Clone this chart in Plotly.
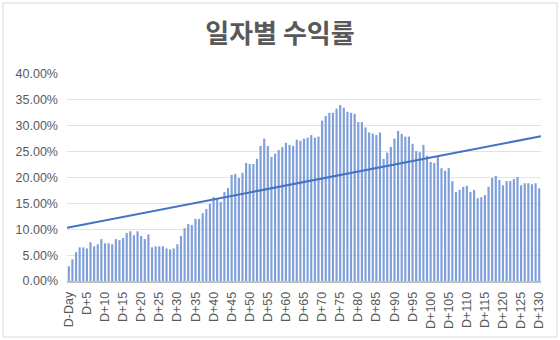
import numpy as np
import plotly.graph_objects as go

# Daily returns (fraction) for D-Day .. D+130
returns_pct = [
    2.85, 4.2, 5.56, 6.5, 6.5, 6.3, 7.5, 6.7, 7.1, 8.1,
    7.3, 7.3, 7.1, 8.1, 7.9, 8.3, 9.3, 9.6, 8.85, 9.6,
    8.7, 8.1, 9.0, 6.5, 6.7, 6.7, 6.7, 6.3, 6.1, 6.3,
    7.1, 8.7, 10.2, 11.0, 10.8, 12.0, 12.0, 13.1, 13.9, 14.9,
    16.2, 15.8, 15.25, 17.2, 18.0, 20.5, 20.7, 19.9, 20.9, 22.8,
    22.6, 22.6, 23.6, 26.1, 27.5, 26.1, 24.0, 24.6, 25.3, 25.9,
    26.7, 26.3, 26.1, 27.3, 27.1, 27.5, 27.7, 28.2, 27.7, 27.9,
    31.0, 31.9, 32.5, 32.5, 33.3, 34.0, 33.5, 32.7, 32.5, 32.3,
    30.7, 30.7, 29.7, 28.7, 28.5, 28.2, 28.7, 23.6, 24.8, 25.9,
    27.5, 29.0, 28.4, 27.9, 27.9, 26.5, 25.1, 24.9, 26.3, 24.2,
    23.0, 22.8, 24.0, 21.8, 21.3, 21.8, 19.3, 17.2, 17.6, 18.2,
    18.4, 17.2, 17.6, 16.0, 16.2, 16.6, 18.2, 19.9, 20.3, 19.5,
    18.5, 19.3, 19.3, 19.7, 20.1, 18.5, 18.9, 18.9, 18.7, 18.9,
    17.9,
]
returns = [v / 100 for v in returns_pct]
day_labels = ["D-Day"] + [f"D+{i}" for i in range(1, len(returns))]
tick_step = 5

n = len(returns)
xs = np.arange(n)
slope, intercept = np.polyfit(xs, returns, 1)
trend_x = np.array([-0.5, n - 0.5])
trend_y = slope * trend_x + intercept

tick_idx = list(range(0, n, tick_step))

fig = go.Figure()
fig.add_trace(go.Bar(
    x=xs, y=returns, marker_color="#7F9FDA", marker_line_width=0,
    hoverinfo="skip", showlegend=False,
))
fig.add_trace(go.Scatter(
    x=trend_x, y=trend_y, mode="lines",
    line=dict(color="#4472C4", width=2), showlegend=False, hoverinfo="skip",
))

font_ticks = dict(family="Liberation Sans, Arial, sans-serif", size=12.5, color="#595959")

fig.update_layout(
    width=560, height=340,
    margin=dict(l=67, r=19, t=74, b=59),
    paper_bgcolor="white", plot_bgcolor="white",
    bargap=0.4,
    title=dict(
        text="<b>일자별 수익률</b>",
        x=0.5, xanchor="center", y=1 - 34 / 340, yanchor="middle",
        font=dict(family="Noto Sans CJK KR, sans-serif", size=26, color="#595959"),
    ),
    xaxis=dict(
        range=[-0.5, n - 0.5],
        tickmode="array", tickvals=tick_idx, ticktext=[day_labels[i] for i in tick_idx],
        tickangle=-90, tickfont=font_ticks, showgrid=False, zeroline=False,
        showline=True, linecolor="#BFBFBF", linewidth=1.5, ticks="",
        ticklabelstandoff=4,
    ),
    yaxis=dict(
        range=[0, 0.4], dtick=0.05, tickformat=".2%",
        tickfont=font_ticks, showgrid=True, gridcolor="#E3E3E3", gridwidth=1,
        zeroline=False, showline=False, ticks="", ticklabelstandoff=8,
    ),
    shapes=[dict(
        type="rect", xref="paper", yref="paper",
        x0=(3 - 67) / 474, x1=(557 - 67) / 474,
        y0=(281 - 337) / 207, y1=(281 - 3) / 207,
        line=dict(color="#D9D9D9", width=1), fillcolor="rgba(0,0,0,0)", layer="below",
    )],
)

fig.write_html("out.html")
